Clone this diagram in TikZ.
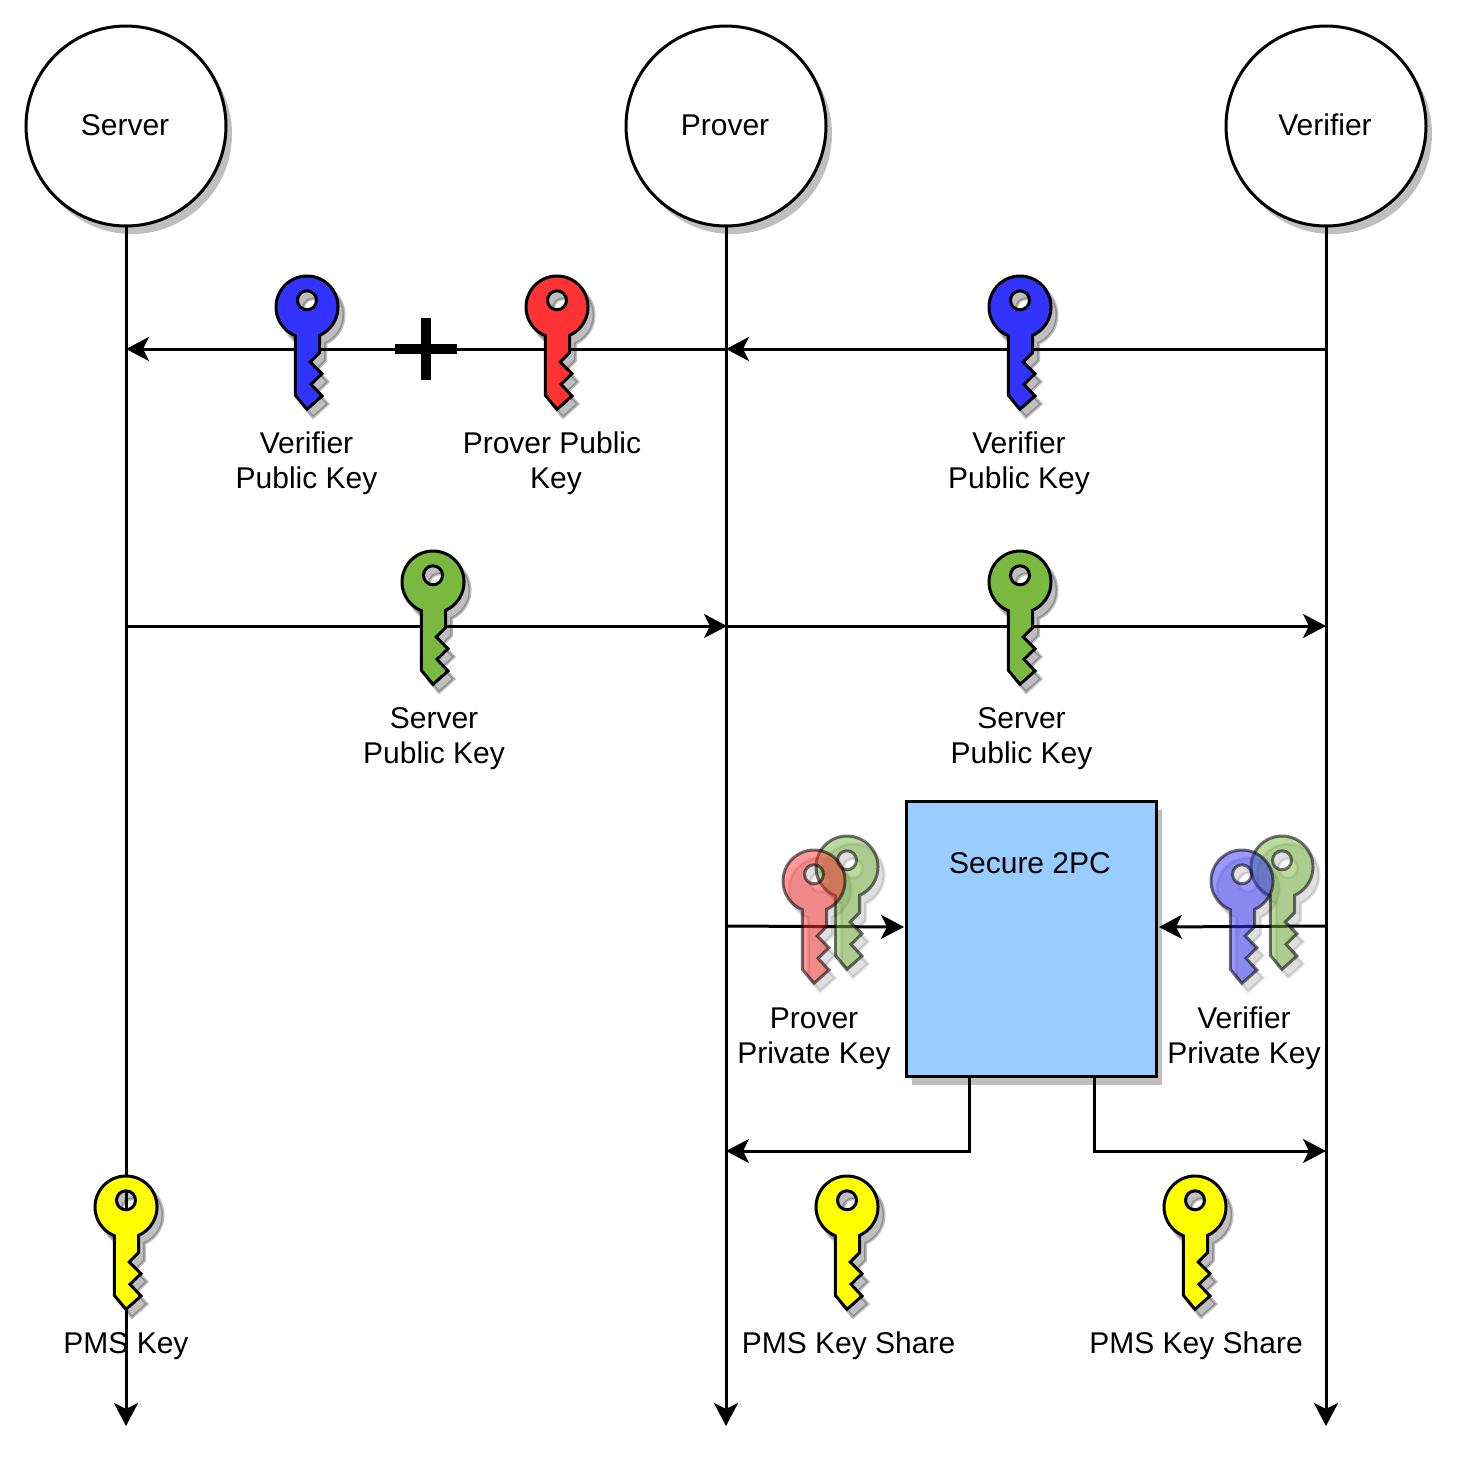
\documentclass[tikz,border=0pt]{standalone}
\usepackage{fontspec}
\setmainfont{Liberation Sans}
\usepackage{tikz}
\usetikzlibrary{arrows.meta}
\usetikzlibrary{shadows}
\definecolor{keyblue}{RGB}{51,51,255}
\definecolor{keyred}{RGB}{255,51,51}
\definecolor{keygreen}{RGB}{122,184,64}
\definecolor{keyyellow}{RGB}{255,255,0}
\definecolor{boxblue}{RGB}{153,204,255}
\definecolor{shadowgray}{RGB}{191,191,191}
\tikzset{
  party/.style={draw,circle,fill=white,minimum size=200pt,inner sep=0pt,outer sep=0pt,drop shadow={shadow xshift=6pt,shadow yshift=-8pt,fill=shadowgray,opacity=1}},
  stepbox/.style={draw,rectangle,fill=boxblue,minimum width=250pt,minimum height=275pt,inner sep=0pt,outer sep=0pt,drop shadow={shadow xshift=6pt,shadow yshift=-8pt,fill=shadowgray,opacity=1}},
  caption/.style={align=center,inner sep=0pt},
  flow/.style={-{Stealth[length=23pt,width=24pt,inset=6pt]}},
}
\newcommand{\keyoutline}{(-11.7,28.7) arc[start angle=112.2,end angle=426,radius=31] -- (12.6,31) -- (12.6,45.7) -- (3.3,55) -- (15,66.7) -- (4,77.3) -- (15,89) -- (0,102.3) -- (-11.7,88.3) -- cycle (0,-6.7) circle[radius=9.5]}
% shadow of a key: x, y, opacity
\newcommand{\keyshadow}[3]{
\path[even odd rule,fill=black,draw=black,fill opacity=#3,draw opacity=#3] [shift={(#1+6,#2+8)}] \keyoutline;}
% solid key: x, y, colour
\newcommand{\keyicon}[3]{
\path[even odd rule,fill=#3,draw=black] [shift={(#1,#2)}] \keyoutline;}
% faded key: x, y, colour
\newcommand{\fadedkey}[3]{
\path[even odd rule,fill=#3,draw=black,fill opacity=.5,draw opacity=.55] [shift={(#1,#2)}] \keyoutline;}

\begin{document}
\begin{tikzpicture}[x=1pt,y=-1pt,line width=3pt,font=\fontsize{30}{35}\selectfont]
\useasboundingbox (0,0) rectangle (1458,1473);
\path (126,126) node(server) [party] {};
\path (726,126) node(prover) [party] {};
\path (1326,126) node(verifier) [party] {};
\path (125,125) node(server_txt) [caption] {Server};
\path (725,125) node(prover_txt) [caption] {Prover};
\path (1325,125) node(verifier_txt) [caption] {Verifier};
\path (126,1426) coordinate(server_end);
\path (726,1426) coordinate(prover_end);
\path (1326,1426) coordinate(verifier_end);
\path (126,349) coordinate(s_349);
\path (726,349) coordinate(p_349);
\path (1326,349) coordinate(v_349);
\path (126,626) coordinate(s_626);
\path (727,626) coordinate(p_626);
\path (1326,626) coordinate(v_626);
\path (727,926) coordinate(p_926);
\path (1326,926) coordinate(v_926);
\path (904,927) coordinate(box_in_l);
\path (1159,927) coordinate(box_in_r);
\path (969,1076) coordinate(box_out_l);
\path (1094,1076) coordinate(box_out_r);
\path (726,1151) coordinate(p_1151);
\path (1326,1151) coordinate(v_1151);
\path (1031,939) node(box2pc) [stepbox] {};
\path (1030,863) node(box_txt) [caption] {Secure 2PC};
\keyshadow{307}{307}{.25}
\keyshadow{557}{307}{.25}
\keyshadow{1020}{307}{.25}
\keyshadow{433}{582}{.25}
\keyshadow{1020}{582}{.25}
\keyshadow{847}{867}{.12}
\keyshadow{814}{881}{.12}
\keyshadow{1282}{867}{.12}
\keyshadow{1242}{881}{.12}
\keyshadow{126}{1207}{.25}
\keyshadow{847}{1207}{.25}
\keyshadow{1195}{1207}{.25}
\draw[flow] (server) -- (server_end);
\draw[flow] (prover) -- (prover_end);
\draw[flow] (verifier) -- (verifier_end);
\draw[flow] (v_349) -- (p_349);
\draw[flow] (p_349) -- (s_349);
\draw[flow] (s_626) -- (p_626);
\draw[flow] (p_626) -- (v_626);
\draw[flow] (p_926) -- (box_in_l);
\draw[flow] (v_926) -- (box_in_r);
\draw[flow] (box_out_l) |- (p_1151);
\draw[flow] (box_out_r) |- (v_1151);
\keyicon{307}{307}{keyblue}
\keyicon{557}{307}{keyred}
\keyicon{1020}{307}{keyblue}
\keyicon{433}{582}{keygreen}
\keyicon{1020}{582}{keygreen}
\fadedkey{847}{867}{keygreen}
\fadedkey{814}{881}{keyred}
\fadedkey{1282}{867}{keygreen}
\fadedkey{1242}{881}{keyblue}
\keyicon{126}{1207}{keyyellow}
\keyicon{847}{1207}{keyyellow}
\keyicon{1195}{1207}{keyyellow}
\fill (395,344) rectangle (457,354);
\fill (421,318) rectangle (431,380);
\path (306.5,463.5) node(vpub_1) [caption] {Verifier\\Public Key};
\path (556,463.5) node(ppub) [caption] {Prover Public\hspace*{8pt}\\Key};
\path (1019,463.5) node(vpub_2) [caption] {Verifier\\Public Key};
\path (434,738.5) node(spub_1) [caption] {Server\\Public Key};
\path (1021.5,738.5) node(spub_2) [caption] {Server\\Public Key};
\path (814,1038.5) node(ppriv) [caption] {Prover\\Private Key};
\path (1244,1038.5) node(vpriv) [caption] {Verifier\\Private Key};
\path (126,1346) node(pms) [caption] {PMS Key};
\path (848.5,1346) node(pms_p) [caption] {PMS Key Share};
\path (1196,1346) node(pms_v) [caption] {PMS Key Share};
\end{tikzpicture}
\end{document}
